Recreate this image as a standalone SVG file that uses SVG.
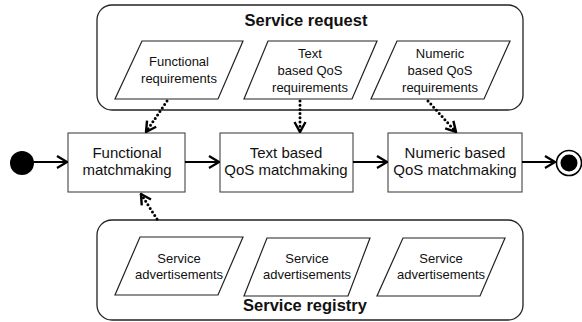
<svg xmlns="http://www.w3.org/2000/svg" width="582" height="322" viewBox="0 0 582 322">
<style>
.bg{fill:#fff}
.cont{fill:#fff;stroke:#222;stroke-width:1.3}
.para{fill:#fff;stroke:#222;stroke-width:1.2}
.box{fill:#fff;stroke:#444;stroke-width:1.1}
.t{font-family:"Liberation Sans",Arial,sans-serif;fill:#111;text-anchor:middle}
.s13{font-size:13px}
.s15{font-size:15px}
.title{font-size:16.5px;font-weight:bold}
.flow{fill:none;stroke:#000;stroke-width:2.2;marker-end:url(#arr)}
.dot{fill:none;stroke:#000;stroke-width:3;stroke-linecap:round;stroke-dasharray:0 4.2;marker-end:url(#arrd)}
</style>
<defs>
<marker id="arr" markerUnits="userSpaceOnUse" viewBox="0 0 12 14" refX="11" refY="7" markerWidth="12" markerHeight="14" orient="auto">
<path d="M1,1 L11,7 L1,13" fill="none" stroke="#000" stroke-width="2.2"/>
</marker>
<marker id="arrd" markerUnits="userSpaceOnUse" viewBox="0 0 12 14" refX="11" refY="7" markerWidth="12" markerHeight="14" orient="auto">
<path d="M1,1.5 L11,7 L1,12.5" fill="none" stroke="#000" stroke-width="2.4"/>
</marker>
</defs>
<rect class="bg" x="0" y="0" width="582" height="322"/>

<g id="service-request">
<rect class="cont" x="97" y="5" width="426" height="105" rx="15"/>
<text class="t title" x="306" y="26">Service request</text>
</g>
<g id="functional-requirements">
<polygon class="para" points="142,41 243,41 218,99 115,99"/>
<text class="t s13" x="179" y="66">Functional</text>
<text class="t s13" x="179" y="83">requirements</text>
</g>
<g id="text-qos-requirements">
<polygon class="para" points="268,41 377,41 352,99 244,99"/>
<text class="t s13" x="310" y="58">Text</text>
<text class="t s13" x="310" y="75">based QoS</text>
<text class="t s13" x="310" y="92">requirements</text>
</g>
<g id="numeric-qos-requirements">
<polygon class="para" points="397,41 510,41 484,99 371,99"/>
<text class="t s13" x="440" y="58">Numeric</text>
<text class="t s13" x="440" y="75">based QoS</text>
<text class="t s13" x="440" y="92">requirements</text>
</g>

<g id="service-registry">
<rect class="cont" x="97" y="220" width="426" height="100" rx="15"/>
<text class="t title" x="305" y="311">Service registry</text>
</g>
<g id="service-ad-1">
<polygon class="para" points="140,237 243,237 218,295 115,295"/>
<text class="t s13" x="179" y="263">Service</text>
<text class="t s13" x="179" y="279">advertisements</text>
</g>
<g id="service-ad-2">
<polygon class="para" points="267,238 370,238 348,296 244,296"/>
<text class="t s13" x="307" y="263">Service</text>
<text class="t s13" x="307" y="279">advertisements</text>
</g>
<g id="service-ad-3">
<polygon class="para" points="403,238 505,238 480,296 377,296"/>
<text class="t s13" x="441" y="263">Service</text>
<text class="t s13" x="441" y="279">advertisements</text>
</g>

<g id="start">
<circle cx="22" cy="163" r="12" fill="#000"/>
</g>
<g id="functional-matchmaking">
<rect class="box" x="68" y="133" width="117" height="59"/>
<text class="t s15" x="127" y="158">Functional</text>
<text class="t s15" x="127" y="175">matchmaking</text>
</g>
<g id="text-qos-matchmaking">
<rect class="box" x="220" y="133" width="133" height="59"/>
<text class="t s15" x="286" y="158">Text based</text>
<text class="t s15" x="286" y="175">QoS matchmaking</text>
</g>
<g id="numeric-qos-matchmaking">
<rect class="box" x="388" y="133" width="134" height="59"/>
<text class="t s15" x="455" y="158">Numeric based</text>
<text class="t s15" x="455" y="175">QoS matchmaking</text>
</g>
<g id="end">
<circle cx="569" cy="163" r="12.5" fill="#fff" stroke="#000" stroke-width="1.6"/>
<circle cx="569" cy="163" r="8.5" fill="#000"/>
</g>

<g id="connectors">
<line class="flow" x1="34" y1="162" x2="67" y2="162"/>
<line class="flow" x1="185" y1="162" x2="219" y2="162"/>
<line class="flow" x1="353" y1="162" x2="387" y2="162"/>
<line class="flow" x1="522" y1="162" x2="555" y2="162"/>
<line class="dot" x1="167" y1="101" x2="146" y2="132"/>
<line class="dot" x1="300" y1="101" x2="300" y2="132"/>
<line class="dot" x1="428" y1="101" x2="456" y2="132"/>
<line class="dot" x1="157" y1="219" x2="141" y2="194"/>
</g>
</svg>
